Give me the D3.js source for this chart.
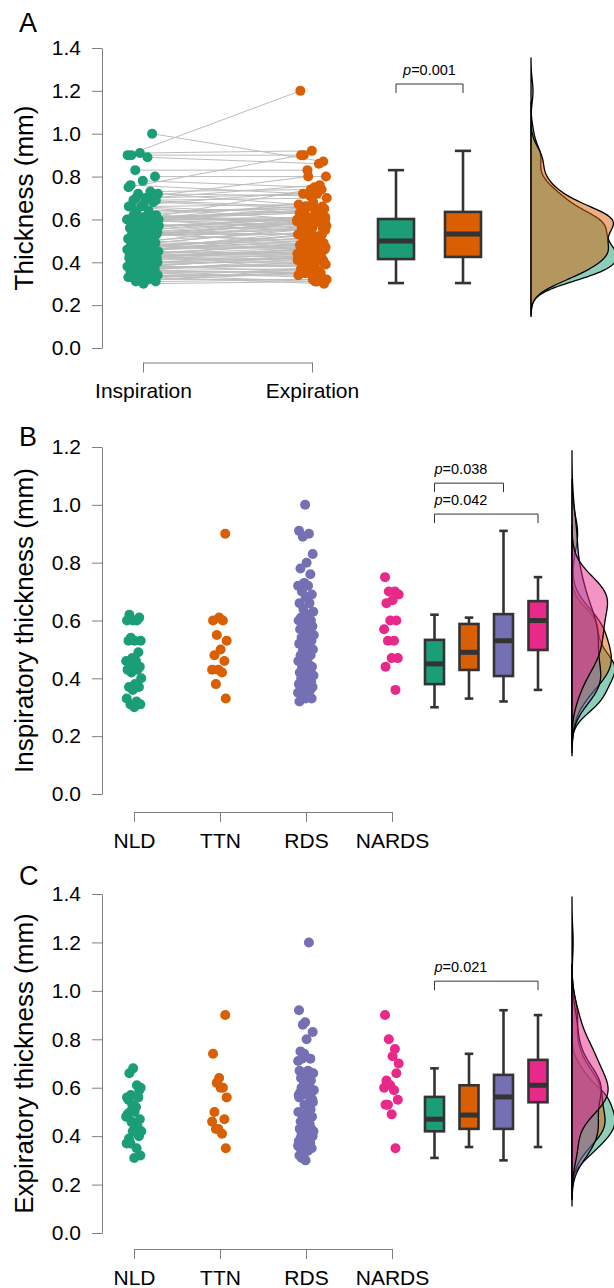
<!DOCTYPE html>
<html>
<head>
<meta charset="utf-8">
<script src="https://cdn.jsdelivr.net/npm/d3@7"></script>
<style>
 body { margin:0; background:#fff; }
 text { font-family:"Liberation Sans", Arial, Helvetica, sans-serif; }
</style>
</head>
<body>
<div id="chart"></div>
<script>
 // groups and colours (Dark2)
 var groups = ["NLD", "TTN", "RDS", "NARDS"];
 var colors = ["#1b9e77", "#d95f02", "#7570b3", "#e7298a"];
 var phases = ["Inspiration", "Expiration"];

 // paired thickness values (mm), same subject at same index
 var nldInsp = [0.62,0.61,0.60,0.60,0.60,0.54,0.53,0.53,0.53,0.49,0.47,0.46,0.46,0.45,0.44,0.43,0.43,0.43,0.42,0.40,0.38,0.37,0.37,0.36,0.33,0.32,0.31,0.31,0.30];
 var nldExp  = [0.66,0.59,0.68,0.56,0.61,0.57,0.60,0.50,0.55,0.56,0.53,0.48,0.52,0.50,0.47,0.45,0.49,0.44,0.46,0.42,0.43,0.39,0.40,0.42,0.37,0.35,0.37,0.32,0.31];
 var ttnInsp = [0.90,0.61,0.60,0.60,0.55,0.53,0.50,0.48,0.46,0.43,0.43,0.42,0.38,0.33];
 var ttnExp  = [0.90,0.64,0.74,0.60,0.62,0.56,0.60,0.50,0.47,0.43,0.46,0.41,0.43,0.35];
 var rdsInsp = [1.00,0.91,0.90,0.89,0.83,0.80,0.78,0.76,0.73,0.72,0.72,0.70,0.69,0.68,0.66,0.66,0.64,0.63,
                0.62,0.61,0.60,0.60,0.60,0.60,0.59,0.58,0.57,0.57,0.56,0.56,0.55,0.54,0.54,0.53,0.53,
                0.52,0.51,0.50,0.50,0.49,0.48,0.48,0.47,0.46,0.45,0.44,0.44,0.43,0.42,0.42,0.41,0.41,
                0.40,0.40,0.39,0.39,0.38,0.38,0.38,0.37,0.37,0.36,0.36,0.35,0.35,0.34,0.34,0.33,0.33,0.32];
 var rdsExp  = [0.87,0.92,1.20,0.86,0.83,0.80,0.75,0.72,0.74,0.71,0.67,0.72,0.66,0.65,0.67,0.60,0.65,0.66,
                0.59,0.64,0.63,0.65,0.57,0.63,0.60,0.55,0.61,0.58,0.60,0.62,0.59,0.53,0.60,0.58,0.49,
                0.56,0.59,0.47,0.54,0.57,0.46,0.51,0.53,0.50,0.44,0.49,0.48,0.46,0.43,0.45,0.47,0.42,
                0.44,0.40,0.43,0.41,0.38,0.42,0.36,0.40,0.39,0.35,0.37,0.33,0.36,0.34,0.31,0.35,0.30,0.32];
 var nardsInsp = [0.75,0.70,0.70,0.69,0.67,0.66,0.60,0.60,0.57,0.53,0.53,0.47,0.47,0.44,0.36];
 var nardsExp  = [0.90,0.76,0.80,0.70,0.73,0.63,0.66,0.61,0.60,0.59,0.53,0.55,0.49,0.53,0.35];

 var inspByGroup = [nldInsp, ttnInsp, rdsInsp, nardsInsp];
 var expByGroup  = [nldExp, ttnExp, rdsExp, nardsExp];
 var inspAll = d3.merge(inspByGroup);
 var expAll  = d3.merge(expByGroup);

 // box stats: [low whisker, q1, median, q3, high whisker]
 var pairBox = [[0.303,0.415,0.499,0.602,0.83],[0.303,0.425,0.532,0.635,0.92]];
 var inspBox = [[0.30,0.38,0.45,0.533,0.62],[0.33,0.429,0.49,0.588,0.61],[0.32,0.408,0.53,0.622,0.91],[0.36,0.498,0.60,0.667,0.75]];
 var expBox  = [[0.31,0.42,0.47,0.562,0.68],[0.355,0.43,0.487,0.61,0.74],[0.30,0.43,0.562,0.653,0.92],[0.355,0.54,0.61,0.715,0.90]];

 // p-value brackets: [from box, to box, p label]
 var pairP = [[0, 1, "0.001"]];
 var inspP = [[0, 2, "0.038"], [0, 3, "0.042"]];
 var expP  = [[0, 3, "0.021"]];

 var ticks14 = [0, 0.2, 0.4, 0.6, 0.8, 1.0, 1.2, 1.4];
 var ticks12 = [0, 0.2, 0.4, 0.6, 0.8, 1.0, 1.2];

 var axisGrey = "#7f7f7f";
 var boxStroke = "#333333";

 var svg = d3.select("#chart").append("svg")
     .attr("width", 614)
     .attr("height", 1288)
     .style("background", "#fff");

 // spread for the strip points, deterministic
 function jit(i) { return ((i * 0.6180339887 + 0.21) % 1) * 2 - 1; }

 function styleAxis(sel) {
     sel.attr("font-size", 21).attr("font-family", "Liberation Sans, Arial, sans-serif");
     sel.select(".domain").attr("stroke", axisGrey);
     sel.selectAll(".tick line").attr("stroke", axisGrey);
     sel.selectAll(".tick text").attr("fill", "#000");
 }

 function yAxis(y, ticks, title, letter, letterY) {
     svg.append("g")
         .attr("transform", "translate(102,0)")
         .call(d3.axisLeft(y).tickValues(ticks).tickFormat(d3.format(".1f"))
               .tickSize(10).tickSizeOuter(0).tickPadding(11))
         .call(styleAxis);
     var mid = (y.range()[0] + y.range()[1]) / 2;
     svg.append("text")
         .attr("transform", "translate(33," + mid + ") rotate(-90)")
         .attr("text-anchor", "middle")
         .attr("font-size", 26)
         .text(title);
     svg.append("text")
         .attr("x", 19).attr("y", letterY)
         .attr("font-size", 27)
         .text(letter);
 }

 function xAxis(x, yPos) {
     svg.append("g")
         .attr("transform", "translate(0," + yPos + ")")
         .call(d3.axisBottom(x).tickSize(10).tickSizeOuter(0).tickPadding(11))
         .call(styleAxis);
 }

 function boxes(stats, xb, y, w, cols) {
     var g = svg.append("g").attr("stroke", boxStroke).attr("stroke-width", 2.6);
     stats.forEach(function(s, i) {
         var cx = xb(i), cw = w * 0.45;
         g.append("line").attr("x1", cx).attr("x2", cx).attr("y1", y(s[0])).attr("y2", y(s[4]));
         g.append("line").attr("x1", cx - cw / 2).attr("x2", cx + cw / 2).attr("y1", y(s[4])).attr("y2", y(s[4]));
         g.append("line").attr("x1", cx - cw / 2).attr("x2", cx + cw / 2).attr("y1", y(s[0])).attr("y2", y(s[0]));
         g.append("rect")
             .attr("x", cx - w / 2).attr("width", w)
             .attr("y", y(s[3])).attr("height", y(s[1]) - y(s[3]))
             .attr("fill", cols[i]);
         g.append("line").attr("x1", cx - w / 2).attr("x2", cx + w / 2)
             .attr("y1", y(s[2])).attr("y2", y(s[2]))
             .attr("stroke-width", 5);
     });
 }

 function brackets(list, levels, xb, y, centred) {
     list.forEach(function(b, i) {
         var x1 = xb(b[0]), x2 = xb(b[1]), yy = y(levels[i]);
         svg.append("path")
             .attr("d", "M" + x1 + "," + (yy + 9) + "V" + yy + "H" + x2 + "V" + (yy + 9))
             .attr("fill", "none").attr("stroke", "#333").attr("stroke-width", 1);
         var t = svg.append("text")
             .attr("x", centred ? (x1 + x2) / 2 : x1)
             .attr("y", yy - 9)
             .attr("text-anchor", centred ? "middle" : "start")
             .attr("font-size", 14.5);
         t.append("tspan").attr("font-style", "italic").text("p");
         t.append("tspan").text("=" + b[2]);
     });
 }

 // gaussian kernel density, bandwidth as R's bw.nrd0, cut = 3
 function bwNrd0(v) {
     var s = d3.deviation(v);
     var iqr = (d3.quantile(v, 0.75) - d3.quantile(v, 0.25)) / 1.34;
     return 0.9 * Math.min(s, iqr) * Math.pow(v.length, -0.2);
 }

 function kde(v) {
     var bw = bwNrd0(v), lo = d3.min(v) - 3 * bw, hi = d3.max(v) + 3 * bw, n = 256;
     return d3.range(n).map(function(i) {
         var t = lo + (hi - lo) * i / (n - 1), s = 0;
         v.forEach(function(d) { var z = (t - d) / bw; s += Math.exp(-0.5 * z * z); });
         return [t, s / (v.length * bw * Math.sqrt(2 * Math.PI))];
     });
 }

 function densities(sets, cols, base, y, maxW) {
     var dens = sets.map(kde);
     var dmax = d3.max(dens, function(d) { return d3.max(d, function(p) { return p[1]; }); });
     var k = maxW / dmax;
     var area = d3.area()
         .x0(base)
         .x1(function(p) { return base + k * p[1]; })
         .y(function(p) { return y(p[0]); })
         .curve(d3.curveBasis);
     dens.forEach(function(d, i) {
         svg.append("path")
             .attr("d", area(d))
             .attr("fill", cols[i]).attr("fill-opacity", 0.5)
             .attr("stroke", "#000").attr("stroke-width", 1.3);
     });
 }

 // ---------- panel A ----------
 var yA = d3.scaleLinear().domain([0, 1.4]).range([348, 48]);
 var xA = d3.scalePoint().domain(phases).range([143, 312]);
 var bA = d3.scaleLinear().domain([0, 1]).range([396, 463]);
 yAxis(yA, ticks14, "Thickness (mm)", "A", 32);
 xAxis(xA, 362.5);

 var gA = svg.append("g");
 inspAll.forEach(function(v, i) {
     gA.append("line")
         .attr("x1", xA("Inspiration") + jit(i) * 16).attr("y1", yA(v))
         .attr("x2", xA("Expiration") + jit(i + 5) * 15).attr("y2", yA(expAll[i]))
         .attr("stroke", "#bdbdbd").attr("stroke-width", 1);
 });
 [inspAll, expAll].forEach(function(vals, s) {
     gA.append("g").selectAll("circle")
         .data(vals).enter().append("circle")
         .attr("cx", function(d, i) { return xA(phases[s]) + (s ? jit(i + 5) * 15 : jit(i) * 16); })
         .attr("cy", function(d) { return yA(d); })
         .attr("r", 5)
         .attr("fill", colors[s]);
 });
 boxes(pairBox, bA, yA, 36, colors);
 brackets(pairP, [1.232], bA, yA, true);
 densities([inspAll, expAll], colors, 531, yA, 86);

 // ---------- panels B and C ----------
 function groupPanel(y, ticks, title, letter, letterY, xAxisY, byGroup, stats, pList, levels) {
     var x = d3.scalePoint().domain(groups).range([134, 392]);
     var xb = d3.scaleLinear().domain([0, 3]).range([434.5, 538]);
     yAxis(y, ticks, title, letter, letterY);
     xAxis(x, xAxisY);
     byGroup.forEach(function(vals, gi) {
         svg.append("g").selectAll("circle")
             .data(vals).enter().append("circle")
             .attr("cx", function(d, i) { return x(groups[gi]) + jit(i + gi) * 8; })
             .attr("cy", function(d) { return y(d); })
             .attr("r", 5)
             .attr("fill", colors[gi]);
     });
     boxes(stats, xb, y, 19, colors);
     brackets(pList, levels, xb, y, false);
     densities(byGroup, colors, 572, y, 43);
 }

 var yB = d3.scaleLinear().domain([0, 1.2]).range([794, 447]);
 groupPanel(yB, ticks12, "Inspiratory thickness (mm)", "B", 446, 812, inspByGroup, inspBox, inspP, [1.075, 0.968]);

 var yC = d3.scaleLinear().domain([0, 1.4]).range([1233, 894]);
 groupPanel(yC, ticks14, "Expiratory thickness (mm)", "C", 885, 1249, expByGroup, expBox, expP, [1.04]);
</script>
</body>
</html>
